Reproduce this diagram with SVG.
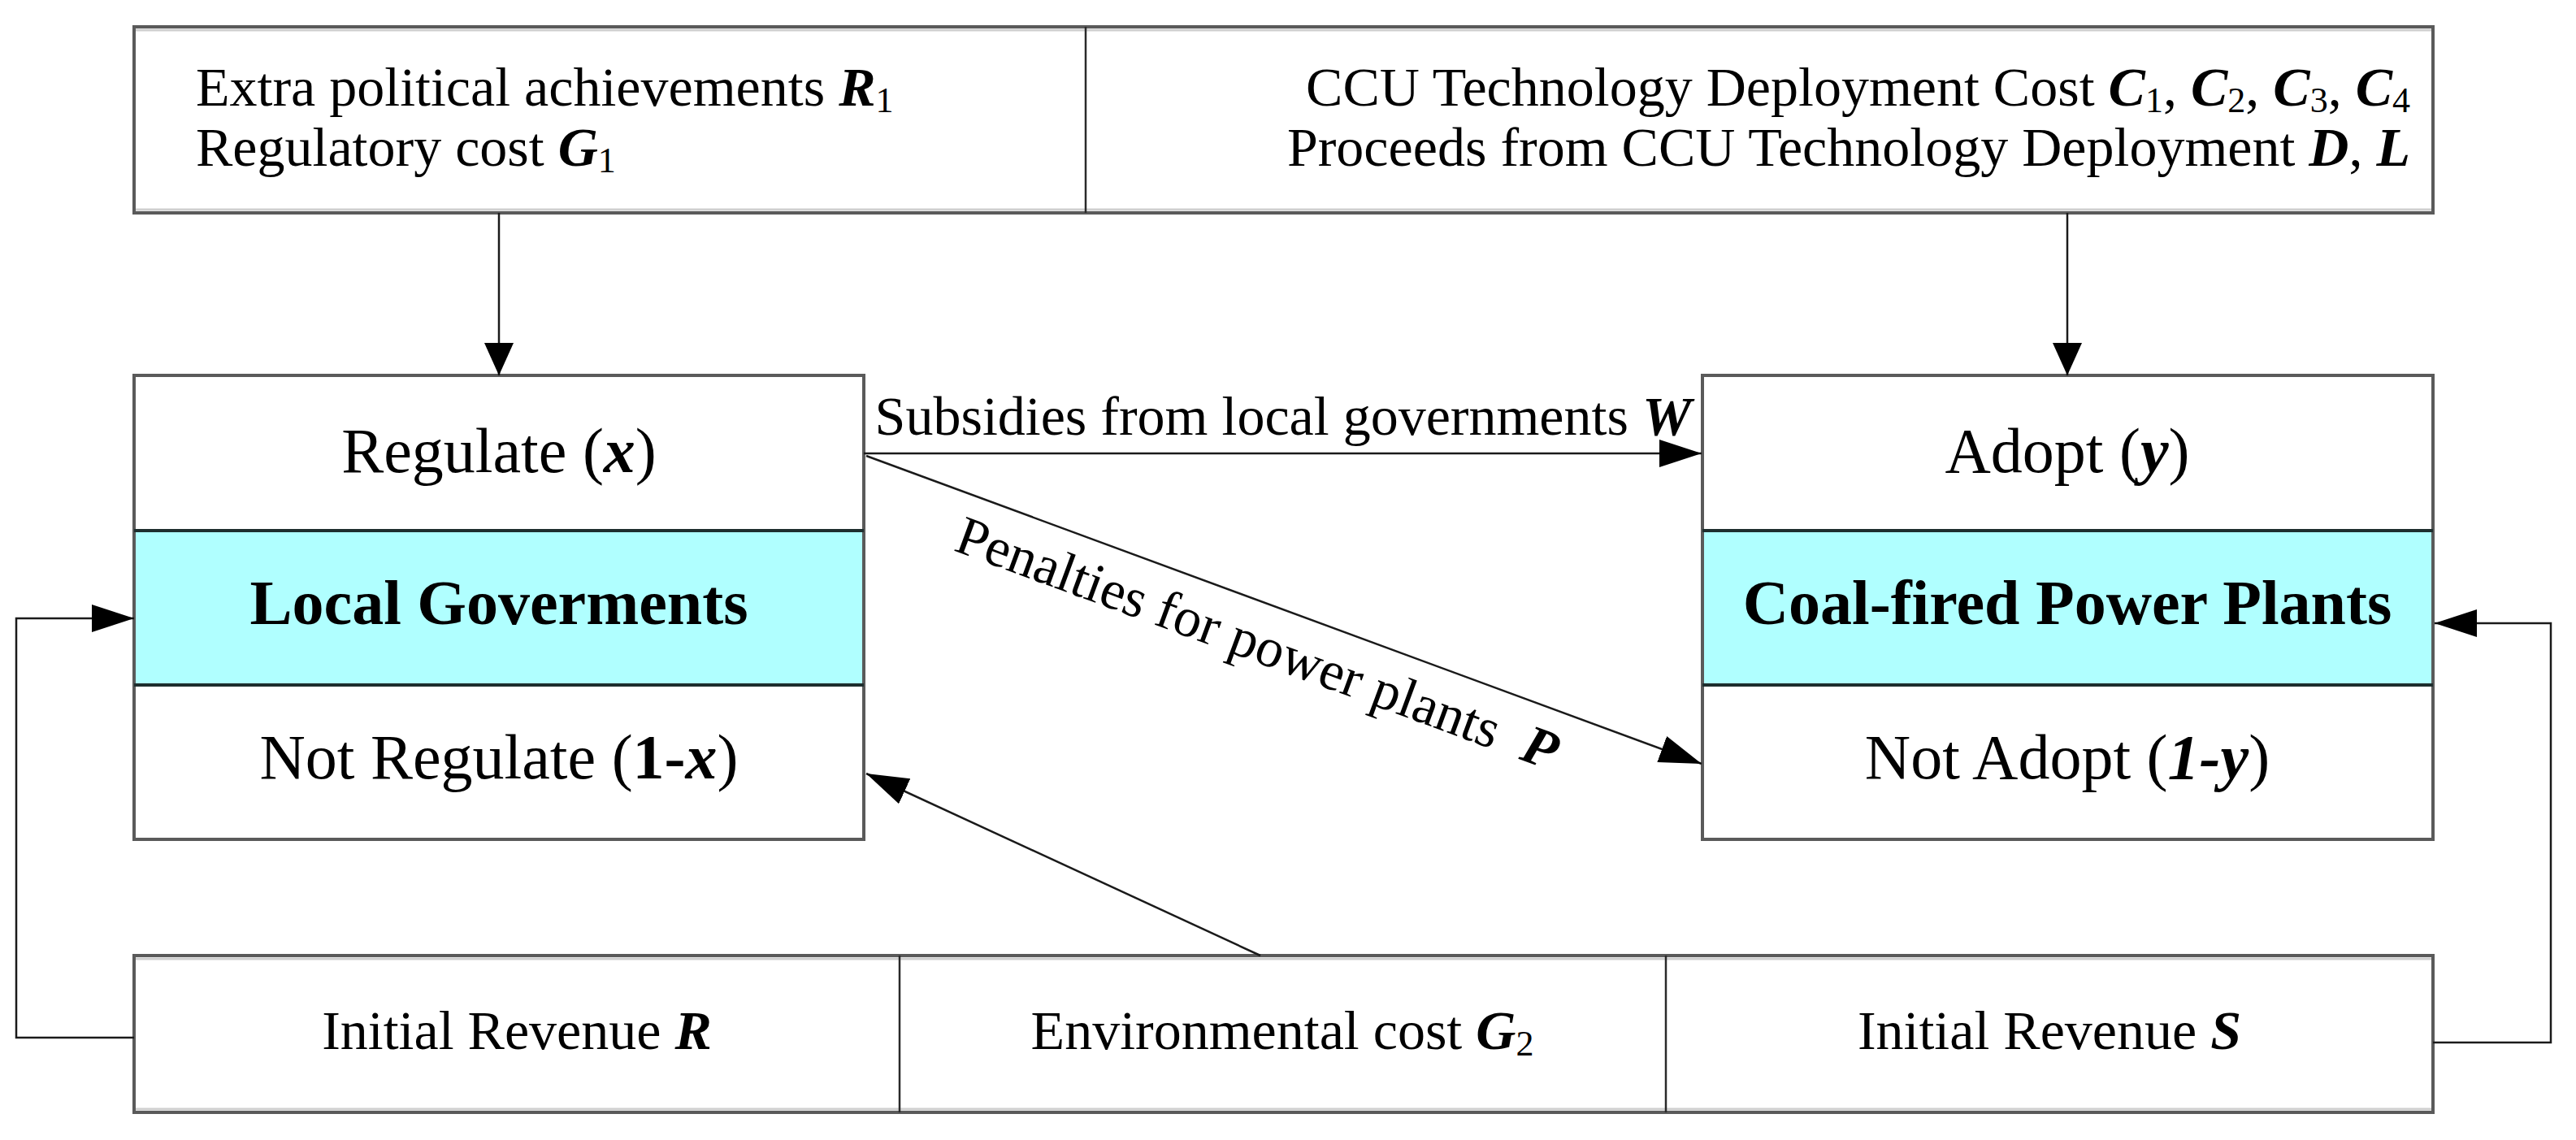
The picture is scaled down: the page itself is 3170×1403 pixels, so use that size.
<svg xmlns="http://www.w3.org/2000/svg" width="3170" height="1403" viewBox="0 0 3170 1403">
<style>
.t{font-family:"Liberation Serif","Times New Roman",serif;font-size:68px;fill:#000}
.n{font-family:"Liberation Serif","Times New Roman",serif;font-size:78px;fill:#000}
.b{font-weight:bold}
.v{font-weight:bold;font-style:italic}
.box{fill:#fff;stroke:#5a5a5a;stroke-width:4}
.div{stroke:#2a2a2a;stroke-width:2.5}
.rowline{stroke:#1e2e2e;stroke-width:4}
.cyan{fill:#b0ffff}
.shade{stroke:#cfcfcf;stroke-width:3}
.con{fill:none;stroke:#1a1a1a;stroke-width:2.5}
</style>
<defs>
<marker id="ah" markerUnits="userSpaceOnUse" markerWidth="52" markerHeight="34" refX="52" refY="17" orient="auto">
<path d="M0,0 L52,17 L0,34 Z" fill="#000"/>
</marker>
<marker id="av" markerUnits="userSpaceOnUse" markerWidth="40" markerHeight="36" refX="40" refY="18" orient="auto">
<path d="M0,0 L40,18 L0,36 Z" fill="#000"/>
</marker>
</defs>
<rect width="3170" height="1403" fill="#fff"/>

<g id="top-box">
<rect class="box" x="165" y="33" width="2829" height="229"/>
<line class="shade" x1="167" y1="37" x2="2992" y2="37"/>
<line class="shade" x1="167" y1="258" x2="2992" y2="258"/>
<line class="div" x1="1336" y1="33" x2="1336" y2="262"/>
<text class="t" x="241" y="130">Extra political achievements <tspan class="v">R</tspan><tspan font-size="44" dy="8">1</tspan></text>
<text class="t" x="241" y="204">Regulatory cost <tspan class="v">G</tspan><tspan font-size="44" dy="8">1</tspan></text>
<text class="t" x="2966" y="130" text-anchor="end">CCU Technology Deployment Cost <tspan class="v">C</tspan><tspan font-size="44" dy="8">1</tspan><tspan dy="-8">, </tspan><tspan class="v">C</tspan><tspan font-size="44" dy="8">2</tspan><tspan dy="-8">, </tspan><tspan class="v">C</tspan><tspan font-size="44" dy="8">3</tspan><tspan dy="-8">, </tspan><tspan class="v">C</tspan><tspan font-size="44" dy="8">4</tspan></text>
<text class="t" x="2966" y="204" text-anchor="end">Proceeds from CCU Technology Deployment <tspan class="v">D</tspan>, <tspan class="v">L</tspan></text>
</g>

<g id="local-governments">
<rect class="box" x="165" y="462" width="898" height="571"/>
<rect class="cyan" x="167" y="653" width="894" height="190"/>
<line class="rowline" x1="165" y1="653" x2="1063" y2="653"/>
<line class="rowline" x1="165" y1="843" x2="1063" y2="843"/>
<text class="n" x="614" y="581" text-anchor="middle">Regulate (<tspan class="v">x</tspan>)</text>
<text class="n b" x="614" y="768" text-anchor="middle">Local Goverments</text>
<text class="n" x="614" y="958" text-anchor="middle">Not Regulate (<tspan class="b">1-</tspan><tspan class="v">x</tspan>)</text>
</g>

<g id="power-plants">
<rect class="box" x="2095" y="462" width="899" height="571"/>
<rect class="cyan" x="2097" y="653" width="895" height="190"/>
<line class="rowline" x1="2095" y1="653" x2="2994" y2="653"/>
<line class="rowline" x1="2095" y1="843" x2="2994" y2="843"/>
<text class="n" x="2544" y="581" text-anchor="middle">Adopt (<tspan class="v">y</tspan>)</text>
<text class="n b" x="2544" y="768" text-anchor="middle">Coal-fired Power Plants</text>
<text class="n" x="2544" y="958" text-anchor="middle">Not Adopt (<tspan class="v">1-y</tspan>)</text>
</g>

<g id="bottom-box">
<rect class="box" x="165" y="1176" width="2829" height="193"/>
<line class="shade" x1="167" y1="1180" x2="2992" y2="1180"/>
<line class="shade" x1="167" y1="1365" x2="2992" y2="1365"/>
<line class="div" x1="1107" y1="1176" x2="1107" y2="1369"/>
<line class="div" x1="2050" y1="1176" x2="2050" y2="1369"/>
<text class="t" x="636" y="1291" text-anchor="middle">Initial Revenue <tspan class="v">R</tspan></text>
<text class="t" x="1578" y="1291" text-anchor="middle">Environmental cost <tspan class="v">G</tspan><tspan font-size="44" dy="8">2</tspan></text>
<text class="t" x="2522" y="1291" text-anchor="middle">Initial Revenue <tspan class="v">S</tspan></text>
</g>

<g id="connectors">
<line class="con" x1="614" y1="262" x2="614" y2="462" marker-end="url(#av)"/>
<line class="con" x1="2544" y1="262" x2="2544" y2="462" marker-end="url(#av)"/>
<line class="con" x1="1063" y1="558" x2="2094" y2="558" stroke-width="3.5" marker-end="url(#ah)"/>
<line class="con" x1="1066" y1="561" x2="2094" y2="940" marker-end="url(#ah)"/>
<line class="con" x1="1551" y1="1176" x2="1066" y2="952" marker-end="url(#ah)"/>
<polyline class="con" points="165,1277 20,1277 20,761 165,761" marker-end="url(#ah)"/>
<polyline class="con" points="2994,1283 3139,1283 3139,767 2996,767" marker-end="url(#ah)"/>
<text class="t" x="1579" y="535" text-anchor="middle">Subsidies from local governments <tspan class="v">W</tspan></text>
<text class="t" x="1172" y="677" transform="rotate(20.24 1172 677)">Penalties for power plants&#160; <tspan class="v">P</tspan></text>
</g>
</svg>
